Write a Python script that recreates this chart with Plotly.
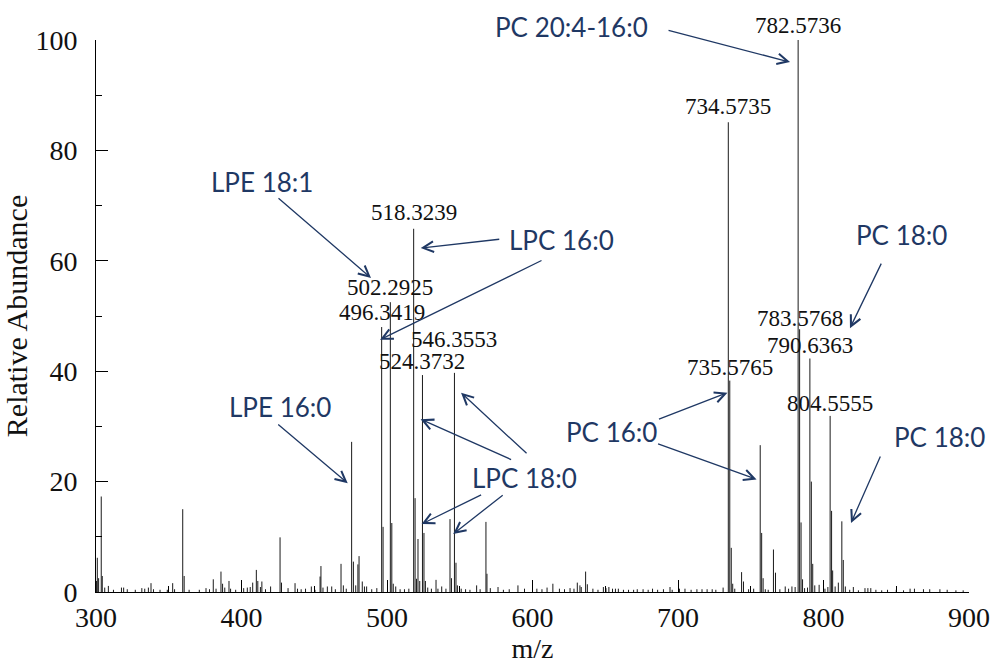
import plotly.graph_objects as go

# ---------------- data ----------------
mz = [300.3, 300.9, 301.8, 303.6, 304.3, 306.0, 308.5, 312.0, 317.5, 319.0, 321.5, 327.0,
      331.5, 333.5, 336.0, 337.8, 339.5, 344.0, 349.0, 352.7, 354.0, 359.6, 360.6, 364.0,
      371.0, 375.6, 378.0, 380.6, 382.5, 385.9, 387.0, 388.5, 391.4, 392.5, 396.0, 401.5,
      404.0, 406.0, 407.7, 410.2, 411.2, 413.0, 414.0, 416.5, 420.0, 426.5, 427.5, 432.0,
      436.8, 438.5, 441.0, 444.0, 448.0, 450.5, 454.0, 454.6, 456.0, 459.0, 462.0, 464.5,
      468.4, 470.0, 472.0, 475.7, 476.9, 478.5, 480.0, 480.8, 483.0, 484.5, 486.0, 489.5,
      493.0, 496.34, 497.3, 502.29, 503.3, 504.3, 506.0, 509.0, 512.0, 515.0, 518.32, 519.3,
      520.3, 521.3, 522.5, 524.37, 525.4, 526.4, 528.0, 530.5, 533.7, 535.0, 537.6, 540.5,
      543.3, 544.3, 546.36, 547.4, 548.4, 551.0, 554.0, 557.0, 561.6, 564.0, 568.0, 568.7,
      571.0, 576.3, 580.0, 584.0, 590.0, 594.5, 603.0, 606.5, 610.0, 614.0, 618.5, 622.0,
      625.8, 628.5, 630.8, 632.6, 633.5, 636.5, 637.7, 641.5, 645.0, 648.7, 650.5, 652.5,
      655.0, 657.0, 659.0, 662.5, 666.0, 669.5, 672.0, 676.0, 679.5, 682.5, 686.0, 690.0,
      694.5, 696.0, 701.0, 704.8, 709.0, 713.0, 716.5, 720.0, 723.5, 726.0, 731.0, 734.57,
      735.58, 736.6, 737.6, 739.0, 743.7, 745.0, 748.5, 752.0, 756.5, 757.5, 758.5, 760.0,
      762.0, 765.6, 767.0, 770.0, 773.7, 776.0, 778.3, 780.5, 782.57, 783.58, 784.58, 785.6,
      787.0, 789.0, 790.64, 791.64, 792.6, 794.0, 797.0, 801.0, 803.0, 804.56, 805.56, 806.3,
      808.0, 810.2, 812.6, 813.6, 815.0, 818.0, 820.5, 824.0, 828.5, 830.5, 832.5, 836.0,
      840.0, 844.0, 850.0, 855.0, 859.5, 862.5, 868.7, 873.0, 880.0, 885.0, 891.0, 896.0]
abundance = [2.0, 6.2, 2.5, 17.3, 2.9, 0.8, 1.1, 0.4, 0.8, 0.8, 0.5, 0.4,
             0.7, 0.6, 0.8, 1.6, 0.5, 0.4, 0.4, 1.6, 0.5, 15.0, 2.9, 0.4,
             0.4, 0.7, 0.5, 2.3, 0.6, 3.7, 1.5, 0.8, 2.0, 0.6, 0.4, 0.7,
             0.8, 0.9, 1.7, 4.0, 2.0, 0.9, 1.9, 0.5, 1.0, 9.9, 1.7, 0.7,
             1.6, 0.6, 0.5, 0.6, 1.0, 0.4, 2.8, 4.7, 0.8, 1.0, 1.0, 0.5,
             5.1, 1.2, 0.6, 27.2, 5.5, 1.2, 5.0, 6.5, 1.9, 1.0, 1.0, 0.5,
             0.7, 48.0, 11.8, 52.5, 12.5, 1.5, 1.0, 0.5, 0.5, 0.6, 65.8, 17.0,
             2.4, 9.6, 2.0, 39.3, 10.7, 2.0, 0.8, 0.6, 2.2, 0.6, 1.0, 0.6,
             13.2, 2.5, 39.7, 5.3, 1.2, 0.6, 0.5, 0.4, 1.2, 0.5, 12.7, 3.3,
             0.7, 0.9, 0.4, 0.5, 1.2, 0.6, 0.6, 0.5, 0.8, 1.5, 0.6, 0.5,
             0.7, 0.6, 1.7, 1.2, 0.9, 3.7, 1.4, 0.6, 0.4, 0.9, 0.7, 0.9,
             0.6, 0.6, 0.6, 0.4, 0.4, 0.4, 0.5, 0.5, 0.4, 0.6, 0.4, 0.5,
             0.9, 0.4, 0.6, 0.6, 0.4, 0.5, 0.5, 0.5, 0.5, 0.4, 0.8, 85.1,
             38.3, 8.0, 1.5, 0.6, 3.6, 1.9, 0.5, 0.6, 26.6, 10.7, 2.5, 0.5,
             0.4, 7.7, 3.5, 0.5, 1.0, 0.6, 1.0, 0.9, 100.0, 47.6, 12.6, 2.3,
             0.7, 0.8, 42.3, 20.0, 5.1, 1.2, 1.3, 0.6, 0.9, 31.9, 14.7, 3.9,
             1.0, 1.7, 12.8, 5.8, 1.0, 0.4, 0.9, 0.3, 0.7, 0.7, 0.7, 0.4,
             0.3, 0.4, 0.4, 0.3, 0.6, 0.6, 0.5, 0.5, 0.5, 0.4, 0.3, 0.3]

# labelled peaks: text, m/z, y position of the label
peak_labels = ["782.5736", "734.5735", "735.5765", "783.5768", "790.6363", "804.5555",
               "518.3239", "502.2925", "496.3419", "546.3553", "524.3732"]
peak_label_mz = [782.57, 734.57, 735.58, 783.58, 790.64, 804.56,
                 518.32, 502.29, 496.34, 546.36, 524.37]
peak_label_y = [102.7, 87.9, 40.6, 49.6, 44.7, 34.2, 68.7, 55.1, 50.7, 45.8, 41.7]

# compound names: text and centre position (data coords)
names = ["PC 20:4-16:0", "LPE 18:1", "LPC 16:0", "PC 18:0", "PC 18:0", "PC 16:0",
         "LPE 16:0", "LPC 18:0"]
name_x = [626.5, 414.0, 619.6, 853.3, 879.4, 654.0, 426.5, 594.8]
name_y = [102.4, 74.3, 63.8, 64.7, 28.1, 29.0, 33.5, 20.7]

# arrows: tip (data coords) and tail offset (pixels)
arrow_x = [777.0, 489.0, 523.2, 495.2, 818.2, 818.9, 734.0, 754.0, 473.0, 523.1, 550.9, 523.8, 545.5]
arrow_y = [96.0, 56.9, 62.3, 45.7, 47.8, 12.5, 36.1, 20.4, 19.7, 31.3, 36.1, 12.3, 10.5]
arrow_ax = [-123, -94, 80, 163, 32, 30, -70, -100, -71, 92, 67, 61, 51]
arrow_ay = [-32, -81, -9, -80, -66, -68, 27, -36, -60, 41, 62, -30, -40]

Y_MAX = 100

# ---------------- figure ----------------
xs, ys = [], []
for m, a in zip(mz, abundance):
    xs += [m, m, None]
    ys += [0, a, None]

fig = go.Figure()
fig.add_trace(go.Scatter(x=xs, y=ys, mode="lines",
                         line=dict(color="#1a1a1a", width=1),
                         hoverinfo="skip", showlegend=False))

SERIF = "Liberation Serif"
NAVY = "#1F3864"


def ypos(y):
    # labels above the axis range are placed in paper coordinates so they stay visible
    if y > Y_MAX:
        return dict(y=y / Y_MAX, yref="paper")
    return dict(y=y, yref="y")


anns = []
for t, x, y in zip(peak_labels, peak_label_mz, peak_label_y):
    anns.append(dict(x=x, xref="x", text=t, showarrow=False,
                     font=dict(family=SERIF, size=23, color="#111"),
                     xanchor="center", yanchor="middle", borderpad=0, **ypos(y)))
for t, x, y in zip(names, name_x, name_y):
    anns.append(dict(x=x, xref="x", text=t, showarrow=False,
                     font=dict(family="Lato", size=26, color=NAVY),
                     xanchor="center", yanchor="middle", **ypos(y)))
for x, y, ax, ay in zip(arrow_x, arrow_y, arrow_ax, arrow_ay):
    anns.append(dict(x=x, y=y, xref="x", yref="y", text="", showarrow=True,
                     ax=ax, ay=ay, arrowhead=5, arrowsize=1.6, arrowwidth=1.3,
                     arrowcolor=NAVY, standoff=0, startstandoff=0))

fig.update_layout(
    width=992, height=665,
    margin=dict(l=96, r=23, t=40, b=73, autoexpand=False),
    paper_bgcolor="white", plot_bgcolor="white",
    annotations=anns,
    xaxis=dict(range=[300, 900], tickvals=[300, 400, 500, 600, 700, 800, 900],
               automargin=False,
               showline=True, linecolor="black", linewidth=1, mirror=False,
               showgrid=False, zeroline=False,
               ticks="inside", ticklen=12, tickcolor="black", tickwidth=1,
               minor=dict(ticks="inside", ticklen=6, dtick=50, tick0=300,
                          tickcolor="black", showgrid=False),
               tickfont=dict(family=SERIF, size=28, color="#111"),
               title=dict(text="m/z", font=dict(family=SERIF, size=28, color="#111"),
                          standoff=4)),
    yaxis=dict(range=[0, Y_MAX], tickvals=[0, 20, 40, 60, 80, 100],
               automargin=False,
               showline=True, linecolor="black", linewidth=1,
               showgrid=False, zeroline=False,
               ticks="inside", ticklen=12, tickcolor="black", tickwidth=1,
               minor=dict(ticks="inside", ticklen=6, dtick=10, tick0=0,
                          tickcolor="black", showgrid=False),
               ticklabelstandoff=12,
               tickfont=dict(family=SERIF, size=28, color="#111"),
               title=dict(text="Relative Abundance",
                          font=dict(family=SERIF, size=30, color="#111"),
                          standoff=2)),
)

fig.write_html("out.html")
